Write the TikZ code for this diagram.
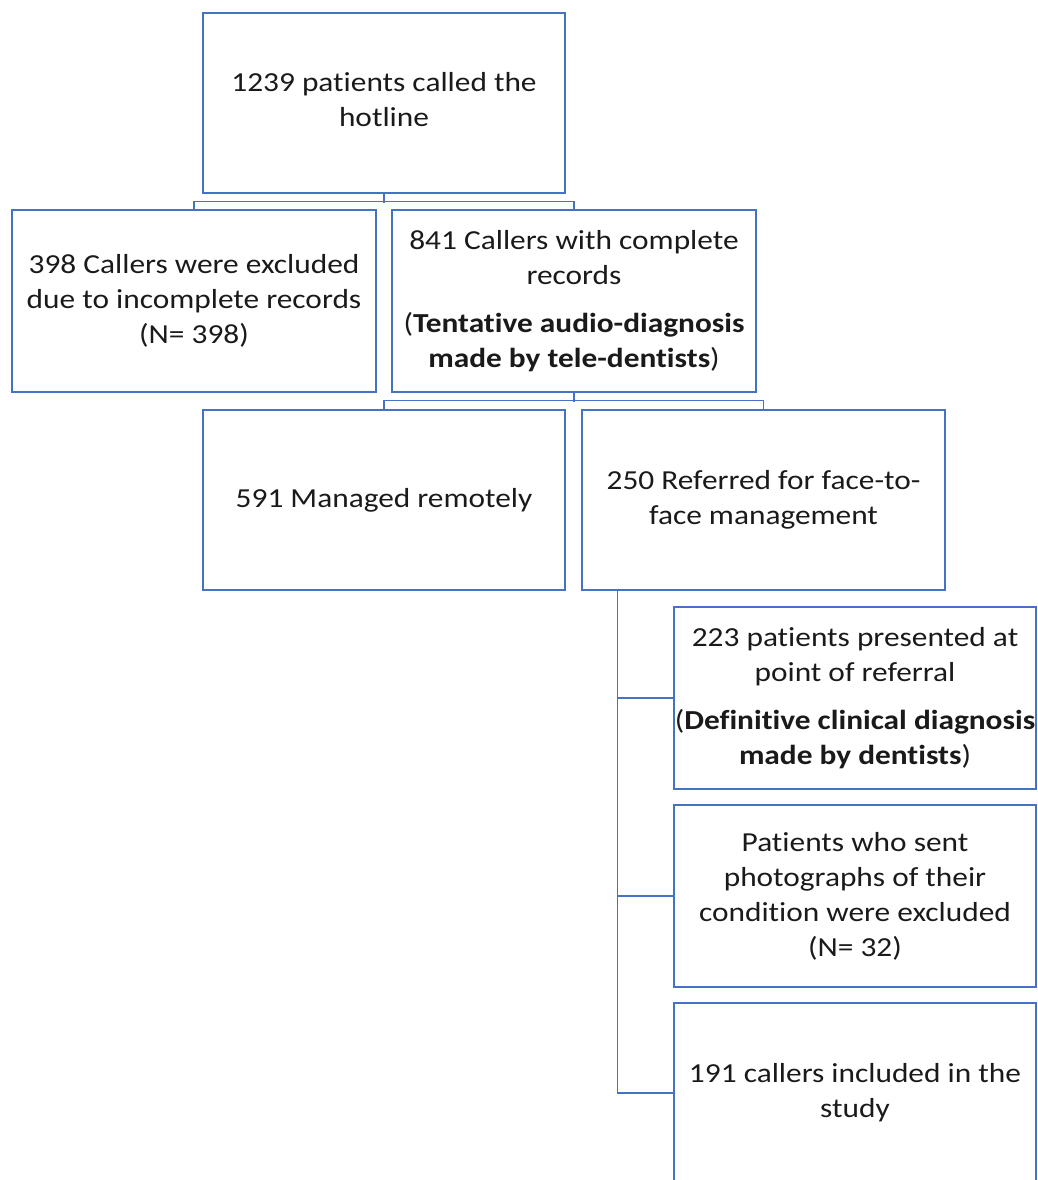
\documentclass[tikz,border=0pt]{standalone}
\usepackage{fontspec}
\setmainfont[FakeStretch=1.14, Ligatures=NoCommon]{Carlito}
\usetikzlibrary{calc}
\definecolor{boxblue}{HTML}{4472C4}
\definecolor{txt}{HTML}{1A1A1A}
\tikzset{
  fbox/.style={draw=boxblue, line width=1.5pt, rectangle, inner sep=0pt, align=center,
    text=txt, font=\fontsize{27.5}{35}\selectfont},
  boxtext/.style={align=center, text=txt, font=\fontsize{27.5}{35}\selectfont},
  link/.style={draw=boxblue, line width=1.3pt},
}
\newcommand{\bx}[6]{% name, x1,y1,x2,y2, text
  \node[fbox, minimum width={#4-#2}, minimum height={#5-#3}] (#1) at ({(#2+#4)/2},{(#3+#5)/2}) {#6};}
\begin{document}
\begin{tikzpicture}[x=1pt,y=-1pt]
\useasboundingbox (0,0) rectangle (1037,1180);
\node[fbox, minimum width=362, minimum height=180] (b1) at (384,103) {};
\node[boxtext] (t1) at (384,100) {1239 patients called the\\hotline};
\bx{b2}{12}{210}{376}{392}{398 Callers were excluded\\due to incomplete records\\(N= 398)}
\bx{b3}{392}{210}{756}{392}{841 Callers with complete\\records\\[13pt](\textbf{Tentative audio-diagnosis}\\\textbf{made by tele-dentists})}
\bx{b4}{203}{410}{565}{590}{591 Managed remotely}
\node[fbox, minimum width=363, minimum height=180] (b5) at (763.5,500) {};
\node[boxtext] (t5) at (763.5,500) {250 Referred for face-to-\\face management};
\bx{b6}{674}{607}{1036}{789}{223 patients presented at\\point of referral\\[13pt](\textbf{Definitive clinical diagnosis}\\\textbf{made by dentists})}
\bx{b7}{674}{805}{1036}{987}{Patients who sent\\photographs of their\\condition were excluded\\(N= 32)}
\node[fbox, minimum width=362, minimum height=186] (b8) at (855,1096) {};
\node[boxtext] (t8) at (855,1093) {191 callers included in the\\study};
% connectors
\draw[link] (b1.south) -- ++(0,9);
\draw[link] (b2.north) -- ++(0,-8) -| (b3.north);
\draw[link] (b3.south) -- ++(0,9);
\draw[link] (b4.north) -- ++(0,-9) -| (b5.north);
\coordinate (v) at ($(b5.south west)+(36,0)$);
\draw[link] (v) |- (b8.west |- t8);
\draw[link] (v |- b6.west) -- (b6.west);
\draw[link] (v |- b7.west) -- (b7.west);
\end{tikzpicture}
\end{document}
